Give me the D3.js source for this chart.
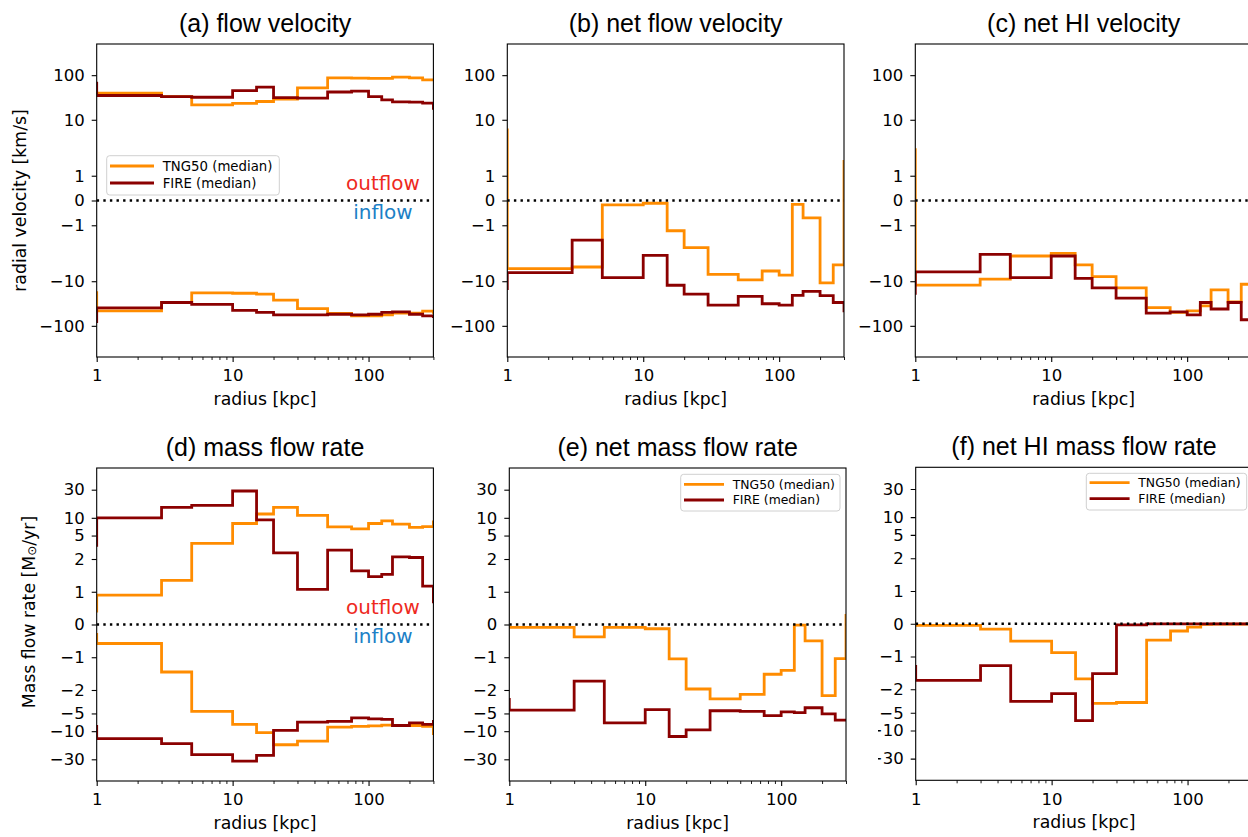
<!DOCTYPE html>
<html lang="en">
<head>
<meta charset="UTF-8">
<title></title>
<style>
  html, body { margin: 0; padding: 0; overflow: hidden; width: 100%; height: 100%; background: white; }
  svg { position: absolute; top: 0; left: 0; background: white; }
  text { font-family: 'DejaVu Sans', sans-serif; fill: #000; }
</style>
</head>
<body>
<svg width="1248" height="837"></svg>
<script src="https://d3js.org/d3.v7.min.js"></script>
<script>
// radial bin edges [kpc]
const edges = [1, 3, 5, 10, 15, 20, 30, 50, 75, 100, 125, 150, 200, 250, 300]
// each series: [bin below 1 kpc, 14 bins, bin above 300 kpc]
const aTngOut  = [40, 39.5, 33, 21.6, 23.2, 25.7, 29, 52, 87, 86, 85, 85, 90, 87, 78.5, 78.5]
const aFireOut = [66, 35, 33, 32, 45, 54, 31.5, 30.6, 42, 44, 33, 28, 25.2, 25, 23.7, 18]
const aTngIn   = [-18, -46, -30, -18.2, -18.6, -19.5, -26.6, -41, -52.7, -59.6, -59.6, -57, -52, -52, -47, -50]
const aFireIn  = [-80, -39.6, -30, -33, -45, -50, -56.6, -56.6, -55, -57, -55, -50, -48.5, -55, -59.6, -62]
const bTng  = [5.96, -5.2, -4.8, -0.173, -0.11, -1.22, -1.9, -7.0, -9.3, -5.9, -7.3, -0.16, -0.7, -10.9, -4.3, 1.58]
const bFire = [-14.6, -6.4, -1.6, -8.3, -2.63, -12.3, -19.5, -34.5, -21.9, -32, -34.5, -20.7, -16.8, -21, -30, -46]
const cTng  = [2.14, -12.2, -9.0, -2.72, -2.37, -4.3, -7.85, -14.1, -39, -50, -46, -35.7, -15.7, -29, -11.7, -11.7]
const cFire = [-18.6, -6.2, -2.5, -8.3, -2.72, -8.6, -14.1, -24, -52, -48.5, -57, -30, -42, -30, -73, -73]
const dTngOut  = [0.41, 0.9, 1.35, 3.68, 8.0, 11.6, 15, 11, 7.0, 6.5, 8.0, 8.9, 7.8, 6.9, 7.1, 8.5]
const dFireOut = [3.4, 10, 15, 16.3, 28.5, 9.2, 2.54, 1.07, 2.83, 1.64, 1.46, 1.53, 2.18, 2.12, 1.17, 0.69]
const dTngIn   = [-0.3, -0.58, -1.45, -4.6, -7.66, -10.6, -17, -14.7, -8.5, -8.3, -8.1, -7.9, -8, -8, -8.3, -11]
const dFireIn  = [-8.3, -13.4, -16.3, -25, -32.2, -25.8, -9.7, -7.0, -6.8, -5.95, -6.2, -6.3, -8, -7.2, -7.66, -6.8]
const eTng  = [-0.09, -0.09, -0.38, -0.09, -0.13, -1.05, -1.97, -2.84, -2.37, -1.52, -1.4, -0.02, -0.5, -2.5, -1.04, 0.28]
const eFire = [-2.9, -4.4, -1.73, -7.2, -4.3, -12.3, -9.5, -4.5, -4.6, -5.45, -4.7, -4.85, -4.0, -5.1, -6.5, -6.5]
const fTng  = [-0.05, -0.05, -0.16, -0.53, -0.88, -1.68, -3.48, -3.35, -0.5, -0.22, -0.1, -0.02, -0.01, -0.01, -0.01, -0.01]
const fFire = [-1.3, -1.73, -1.28, -3.2, -2.37, -6.8, -1.52, -0.03, -0.005, -0.005, -0.005, -0.005, -0.005, -0.005, -0.005, -0.005]

const velTicks  = [100, 10, 1, 0, -1, -10, -100]
const rateTicks = [30, 10, 5, 2, 1, 0, -1, -2, -5, -10, -30]
const xMajor = [1, 10, 100]
const xMinor = [2, 3, 4, 5, 6, 7, 8, 9, 20, 30, 40, 50, 60, 70, 80, 90, 200, 300]
const legendNames = ['TNG50 (median)', 'FIRE (median)']

const ORANGE = '#ff8c00', DARKRED = '#8b0000'
const W = 336.7, H = 313

// matplotlib-like symlog, linthresh 2, linscale 1
const LT = 2, LS = 1 / (1 - 1 / 10)
const T = v => Math.abs(v) <= LT ? v * LS : Math.sign(v) * LT * (LS + Math.log10(Math.abs(v) / LT))
const fmt = v => (v < 0 ? '\u2212' : '') + Math.abs(v)

const svg = d3.select('svg')

const panels = [
  { id: 'a', x0: 96.7, y0: 44, title: '(a) flow velocity', lim: 500, ticks: velTicks,
    series: [[aTngOut, ORANGE], [aTngIn, ORANGE], [aFireOut, DARKRED], [aFireIn, DARKRED]],
    legend: { dx: 10, dy: 111.7, w: 172.6, h: 39.3, ll: 44, fs: 13.3, r1: 10.3, r2: 27.3 }, flow: true },
  { id: 'b', x0: 507.3, y0: 44, title: '(b) net flow velocity', lim: 500, ticks: velTicks,
    series: [[bTng, ORANGE], [bFire, DARKRED]] },
  { id: 'c', x0: 915.3, y0: 44, title: '(c) net HI velocity', lim: 500, ticks: velTicks,
    series: [[cTng, ORANGE], [cFire, DARKRED]] },
  { id: 'd', x0: 96.7, y0: 468, title: '(d) mass flow rate', lim: 70, ticks: rateTicks,
    series: [[dTngOut, ORANGE], [dTngIn, ORANGE], [dFireOut, DARKRED], [dFireIn, DARKRED]], flow: true },
  { id: 'e', x0: 509.3, y0: 468, title: '(e) net mass flow rate', lim: 70, ticks: rateTicks,
    series: [[eTng, ORANGE], [eFire, DARKRED]],
    legend: { dx: 171.4, dy: 6.3, w: 159.3, h: 36.7, ll: 40, fs: 12.4, r1: 10, r2: 25.7 } },
  { id: 'f', x0: 915.7, y0: 467.3, title: '(f) net HI mass flow rate', lim: 70, ticks: rateTicks,
    series: [[fTng, ORANGE], [fFire, DARKRED]],
    legend: { dx: 170.6, dy: 6, w: 160.4, h: 36.7, ll: 40, fs: 12.4, r1: 9.4, r2: 25.4 }, clipLabels: 878 }
]

const defs = svg.append('defs')

panels.forEach(p => {
  const x = d3.scaleLog().domain([1, 300]).range([p.x0, p.x0 + W])
  const y = d3.scaleLinear().domain([T(-p.lim), T(p.lim)]).range([p.y0 + H, p.y0])
  const g = svg.append('g')

  defs.append('clipPath').attr('id', 'clip-' + p.id)
    .append('rect').attr('x', p.x0).attr('y', p.y0).attr('width', W).attr('height', H)

  // y axis
  const ya = g.append('g')
    .attr('transform', `translate(${p.x0},0)`)
    .call(d3.axisLeft(y).tickValues(p.ticks.map(T)).tickFormat((d, i) => fmt(p.ticks[i]))
      .tickSize(5).tickPadding(7))
  ya.select('.domain').remove()
  ya.selectAll('text').style('font-family', "'DejaVu Sans', sans-serif").style('font-size', '16.5px')
  ya.selectAll('line').attr('stroke-width', 1.1)
  if (p.clipLabels) {
    // clip rect lives in the axis group's local coordinates
    defs.append('clipPath').attr('id', 'lab-' + p.id)
      .append('rect').attr('x', p.clipLabels - p.x0).attr('y', p.y0 - 20)
      .attr('width', p.x0 - p.clipLabels + 10).attr('height', H + 40)
    ya.attr('clip-path', `url(#lab-${p.id})`)
  }

  // x axis
  const xa = g.append('g')
    .attr('transform', `translate(0,${p.y0 + H})`)
    .call(d3.axisBottom(x).tickValues(xMajor).tickFormat(d3.format('d')).tickSize(5).tickPadding(7.5))
  xa.select('.domain').remove()
  xa.selectAll('text').style('font-family', "'DejaVu Sans', sans-serif").style('font-size', '16.5px')
  xa.selectAll('line').attr('stroke-width', 1.1)
  const xm = g.append('g')
    .attr('transform', `translate(0,${p.y0 + H})`)
    .call(d3.axisBottom(x).tickValues(xMinor).tickFormat('').tickSize(3))
  xm.select('.domain').remove()
  xm.selectAll('line').attr('stroke-width', 0.9)

  // step lines
  const xs = [0.5, ...edges, 600]
  const line = d3.line().x(d => x(d[0])).y(d => y(T(d[1])))
  const plot = g.append('g').attr('clip-path', `url(#clip-${p.id})`)
  p.series.forEach(([vals, col]) => {
    const pts = []
    vals.forEach((v, i) => { pts.push([xs[i], v]); pts.push([xs[i + 1], v]) })
    plot.append('path').attr('d', line(pts))
      .attr('fill', 'none').attr('stroke', col).attr('stroke-width', 2.8)
      .attr('stroke-linejoin', 'miter')
  })

  // zero line
  plot.append('line')
    .attr('x1', x(1)).attr('x2', x(300)).attr('y1', y(T(0))).attr('y2', y(T(0)))
    .attr('stroke', '#000').attr('stroke-width', 2.4).attr('stroke-dasharray', '2.4,4.2')

  // spines
  g.append('rect').attr('x', p.x0).attr('y', p.y0).attr('width', W).attr('height', H)
    .attr('fill', 'none').attr('stroke', '#000').attr('stroke-width', 1.1)

  // title and x label
  g.append('text').attr('x', p.x0 + W / 2).attr('y', p.y0 - 12)
    .attr('text-anchor', 'middle')
    .style('font-family', "'Liberation Sans', Arial, sans-serif").style('font-size', '25px')
    .text(p.title)
  g.append('text').attr('x', p.x0 + W / 2).attr('y', p.y0 + H + 48)
    .attr('text-anchor', 'middle').style('font-size', '17.3px').text('radius [kpc]')

  if (p.flow) {
    const z = y(T(0))
    g.append('text').attr('x', p.x0 + 286.3).attr('y', z - 10.3).attr('text-anchor', 'middle')
      .style('font-size', '20px').style('fill', '#ee2a1e').text('outflow')
    g.append('text').attr('x', p.x0 + 286.3).attr('y', z + 18.8).attr('text-anchor', 'middle')
      .style('font-size', '20px').style('fill', '#1c80c6').text('inflow')
  }

  if (p.legend) {
    const L = p.legend
    const lx = p.x0 + L.dx, ly = p.y0 + L.dy
    const lg = g.append('g')
    lg.append('rect').attr('x', lx).attr('y', ly).attr('width', L.w).attr('height', L.h)
      .attr('rx', 3).attr('fill', 'white').attr('fill-opacity', 0.8)
      .attr('stroke', '#d0d0d0').attr('stroke-width', 1)
    ;[[ORANGE, L.r1], [DARKRED, L.r2]].forEach(([col, r], i) => {
      lg.append('line').attr('x1', lx + 3.3).attr('x2', lx + 3.3 + L.ll)
        .attr('y1', ly + r).attr('y2', ly + r).attr('stroke', col).attr('stroke-width', 2.8)
      lg.append('text').attr('x', lx + L.ll + 12).attr('y', ly + r).attr('dy', '0.36em')
        .style('font-size', L.fs + 'px').text(legendNames[i])
    })
  }
})

// y labels
svg.append('text').attr('transform', 'translate(20,200.5) rotate(-90)')
  .attr('text-anchor', 'middle').attr('dominant-baseline', 'central')
  .style('font-size', '17.3px').text('radial velocity [km/s]')
const yl = svg.append('text').attr('transform', 'translate(29,612) rotate(-90)')
  .attr('text-anchor', 'middle').attr('dominant-baseline', 'central')
  .style('font-size', '17.3px')
yl.append('tspan').text('Mass flow rate [M')
yl.append('tspan').attr('baseline-shift', '-25%').style('font-size', '12px').text('\u2299')
yl.append('tspan').text('/yr]')
</script>
</body>
</html>
